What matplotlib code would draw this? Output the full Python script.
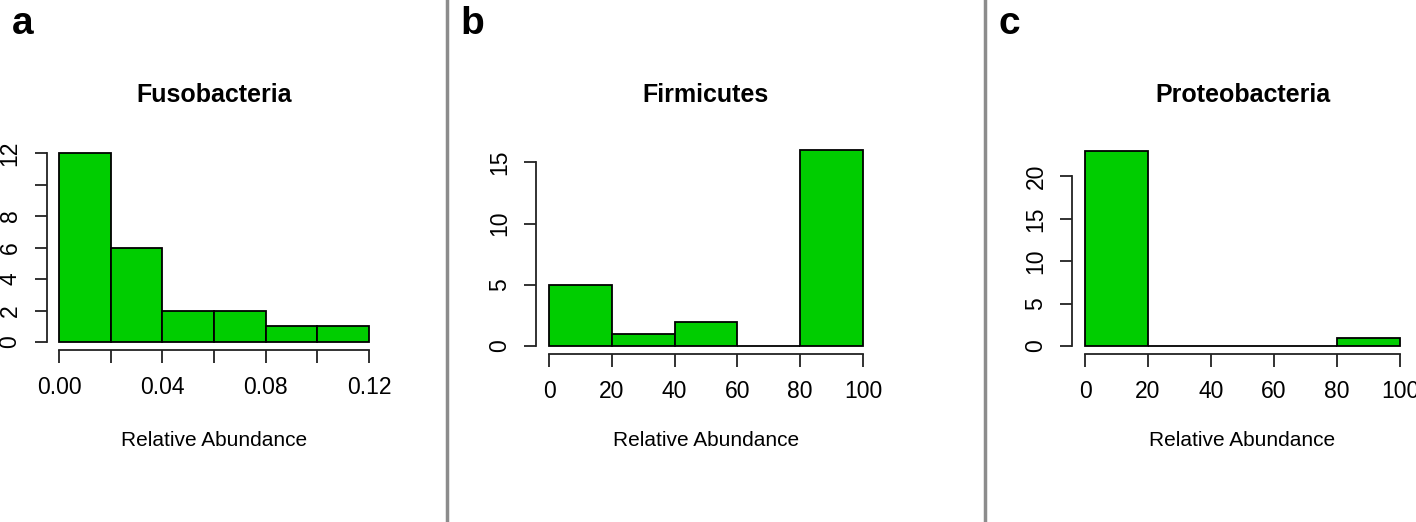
import numpy as np
import matplotlib
matplotlib.use("Agg")
import matplotlib.pyplot as plt

plt.rcParams['font.family'] = ['Liberation Sans', 'DejaVu Sans']

# histogram data: bin edges and counts per panel
fuso_edges = [0.00, 0.02, 0.04, 0.06, 0.08, 0.10, 0.12]
fuso_counts = [12, 6, 2, 2, 1, 1]
firm_edges = [0, 20, 40, 60, 80, 100]
firm_counts = [5, 1, 2, 0, 16]
prot_edges = [0, 20, 40, 60, 80, 100]
prot_counts = [23, 0, 0, 0, 1]

titles = ["Fusobacteria", "Firmicutes", "Proteobacteria"]
letters = ["a", "b", "c"]

fuso_xticks = [0.00, 0.02, 0.04, 0.06, 0.08, 0.10, 0.12]
fuso_xlabels = ["0.00", "", "0.04", "", "0.08", "", "0.12"]
fuso_yticks = [0, 2, 4, 6, 8, 10, 12]
fuso_ylabels = ["0", "2", "4", "6", "8", "", "12"]
pct_xticks = [0, 20, 40, 60, 80, 100]
pct_xlabels = ["0", "20", "40", "60", "80", "100"]
firm_yticks = [0, 5, 10, 15]
prot_yticks = [0, 5, 10, 15, 20]

W, H = 1416, 522
GREEN = "#00CD00"

fig = plt.figure(figsize=(W / 100, H / 100), dpi=100)


def make_axes(x0, x1, ytop, ybot, xlim, ylim):
    # pixel box of the data range; R adds 4% on each side
    dx = (x1 - x0) * 0.04
    dy = (ybot - ytop) * 0.04
    left, right = x0 - dx, x1 + dx
    top, bottom = ytop - dy, ybot + dy
    ax = fig.add_axes([left / W, 1 - bottom / H, (right - left) / W, (bottom - top) / H])
    rx = (xlim[1] - xlim[0]) * 0.04
    ry = (ylim[1] - ylim[0]) * 0.04
    ax.set_xlim(xlim[0] - rx, xlim[1] + rx)
    ax.set_ylim(ylim[0] - ry, ylim[1] + ry)
    return ax


panels = [
    (fuso_edges, fuso_counts, (59, 369, 153, 342), (0, 0.12), (0, 12),
     fuso_xticks, fuso_xlabels, fuso_yticks, fuso_ylabels),
    (firm_edges, firm_counts, (549, 863, 150, 346), (0, 100), (0, 16),
     pct_xticks, pct_xlabels, firm_yticks, [str(t) for t in firm_yticks]),
    (prot_edges, prot_counts, (1085, 1400, 151, 346), (0, 100), (0, 23),
     pct_xticks, pct_xlabels, prot_yticks, [str(t) for t in prot_yticks]),
]

for i, (edges, counts, box, xlim, ylim, xt, xl, yt, yl) in enumerate(panels):
    ax = make_axes(*box, xlim, ylim)
    edges = np.array(edges)
    ax.bar(edges[:-1], counts, width=np.diff(edges), align="edge",
           color=GREEN, edgecolor="black", linewidth=1.3, clip_on=False)

    for side in ("top", "right"):
        ax.spines[side].set_visible(False)
    ax.spines["bottom"].set_bounds(xt[0], xt[-1])
    ax.spines["left"].set_bounds(yt[0], yt[-1])
    for side in ("bottom", "left"):
        ax.spines[side].set_linewidth(1.3)
        ax.spines[side].set_color("#222222")

    ax.set_xticks(xt)
    ax.set_xticklabels(xl)
    ax.set_yticks(yt)
    ax.set_yticklabels(yl, rotation=90, va="center")
    ax.tick_params(axis="both", length=9, width=1.3, color="#222222",
                   labelsize=16.5)
    ax.tick_params(axis="x", pad=10)
    ax.tick_params(axis="y", pad=9)

    cx = (box[0] + box[1]) / 2
    fig.text(cx / W, 1 - 95 / H, titles[i], fontsize=18, fontweight="bold",
             ha="center", va="center")
    fig.text(cx / W, 1 - 440 / H, "Relative Abundance", fontsize=15,
             ha="center", va="center")

    lx = [12, 460, 998][i]
    fig.text(lx / W, 1 - 6 / H, letters[i], fontsize=28, fontweight="bold",
             ha="left", va="top")

for x in (447, 985):
    fig.add_artist(plt.Line2D([x / W, x / W], [0, 1], color="#8c8c8c",
                              linewidth=2.5, transform=fig.transFigure))

fig.savefig("out.png", dpi=100)
